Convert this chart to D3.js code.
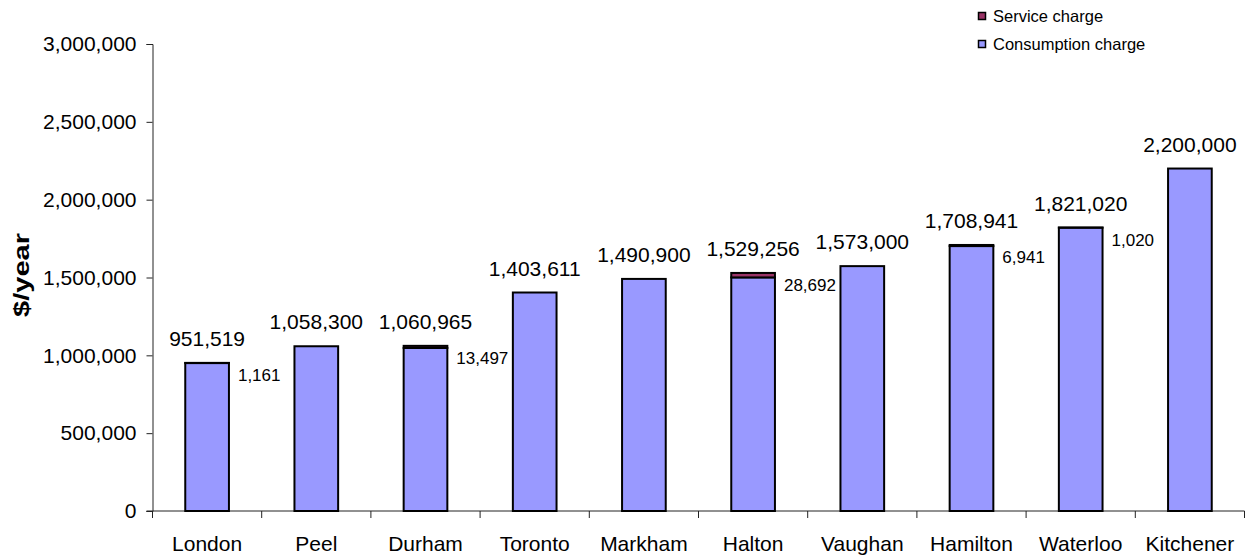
<!DOCTYPE html>
<html>
<head>
<meta charset="utf-8">
<script src="https://cdn.jsdelivr.net/npm/d3@7"></script>
<style>
  html, body { margin: 0; padding: 0; background: #fff; }
  svg { display: block; font-family: "Liberation Sans", Arial, sans-serif; }
</style>
</head>
<body>
<svg id="chart" width="1247" height="557"></svg>
<script>
const categories = ["London", "Peel", "Durham", "Toronto", "Markham", "Halton", "Vaughan", "Hamilton", "Waterloo", "Kitchener"];
const totalCharge = [951519, 1058300, 1060965, 1403611, 1490900, 1529256, 1573000, 1708941, 1821020, 2200000];
const serviceCharge = [1161, 0, 13497, 0, 0, 28692, 0, 6941, 1020, 0];
const consumptionCharge = totalCharge.map((t, i) => t - serviceCharge[i]);
const yTicks = [0, 500000, 1000000, 1500000, 2000000, 2500000, 3000000];
const seriesNames = ["Service charge", "Consumption charge"];
const seriesColors = ["#993366", "#9999FF"];

const svg = d3.select("#chart");
const fmt = d3.format(",");

const plotLeft = 152.5, plotRight = 1244.5, plotTop = 44, plotBottom = 511;
const x = d3.scaleBand().domain(categories).range([plotLeft, plotRight]).paddingInner(0.6).paddingOuter(0.3);
const y = d3.scaleLinear().domain([0, 3000000]).range([plotBottom, plotTop]);

// Y axis
const yAxis = d3.axisLeft(y).tickValues(yTicks).tickFormat(fmt).tickSize(6).tickPadding(10);
const gy = svg.append("g").attr("transform", `translate(${plotLeft},0)`).call(yAxis);
gy.select(".domain").attr("stroke", "#222");
gy.selectAll(".tick line").attr("stroke", "#222");
gy.selectAll("text").attr("font-size", 21).attr("fill", "#000").attr("font-family", "Liberation Sans, Arial, sans-serif");

// X axis line and boundary ticks
svg.append("line").attr("x1", plotLeft - 6).attr("x2", plotRight).attr("y1", plotBottom).attr("y2", plotBottom).attr("stroke", "#222");
const step = x.step();
const boundaries = d3.range(categories.length + 1).map(i => plotLeft + i * step);
svg.append("g").selectAll("line").data(boundaries).join("line")
  .attr("x1", d => d).attr("x2", d => d).attr("y1", plotBottom).attr("y2", plotBottom + 7).attr("stroke", "#222");
svg.append("g").selectAll("text").data(categories).join("text")
  .attr("x", d => x(d) + x.bandwidth() / 2).attr("y", 551)
  .attr("text-anchor", "middle").attr("font-size", 21).text(d => d);

// Bars
const bars = svg.append("g");
categories.forEach((c, i) => {
  const c0 = consumptionCharge[i];
  bars.append("rect")
    .attr("x", x(c)).attr("width", x.bandwidth())
    .attr("y", y(c0)).attr("height", y(0) - y(c0))
    .attr("fill", seriesColors[1]).attr("stroke", "#000").attr("stroke-width", 2);
  if (serviceCharge[i] > 0) {
    bars.append("rect")
      .attr("x", x(c)).attr("width", x.bandwidth())
      .attr("y", y(totalCharge[i])).attr("height", y(c0) - y(totalCharge[i]))
      .attr("fill", seriesColors[0]).attr("stroke", "#000").attr("stroke-width", 2);
  }
});

// Total labels
svg.append("g").selectAll("text").data(categories).join("text")
  .attr("x", d => x(d) + x.bandwidth() / 2)
  .attr("y", (d, i) => y(totalCharge[i]) - 17)
  .attr("text-anchor", "middle").attr("font-size", 21)
  .text((d, i) => fmt(totalCharge[i]));

// Service labels
svg.append("g").selectAll("text").data(categories.filter((d, i) => serviceCharge[i] > 0)).join("text")
  .attr("x", d => x(d) + x.bandwidth() + 9)
  .attr("y", d => y(totalCharge[categories.indexOf(d)]) + 18)
  .attr("font-size", 17)
  .text(d => fmt(serviceCharge[categories.indexOf(d)]));

// Y title
svg.append("text")
  .attr("transform", "translate(29,275) rotate(-90)")
  .attr("text-anchor", "middle").attr("font-size", 22).attr("font-weight", "bold")
  .attr("textLength", 84).attr("lengthAdjust", "spacingAndGlyphs")
  .text("$/year");

// Legend
const legend = svg.append("g");
seriesNames.forEach((n, i) => {
  const ly = 12 + i * 28;
  legend.append("rect").attr("x", 978.5).attr("y", ly + 0.5).attr("width", 7).attr("height", 7)
    .attr("fill", seriesColors[i]).attr("stroke", "#000").attr("stroke-width", 1.5);
  legend.append("text").attr("x", 993).attr("y", ly + 9.5).attr("font-size", 16.5).text(n);
});
</script>
</body>
</html>
